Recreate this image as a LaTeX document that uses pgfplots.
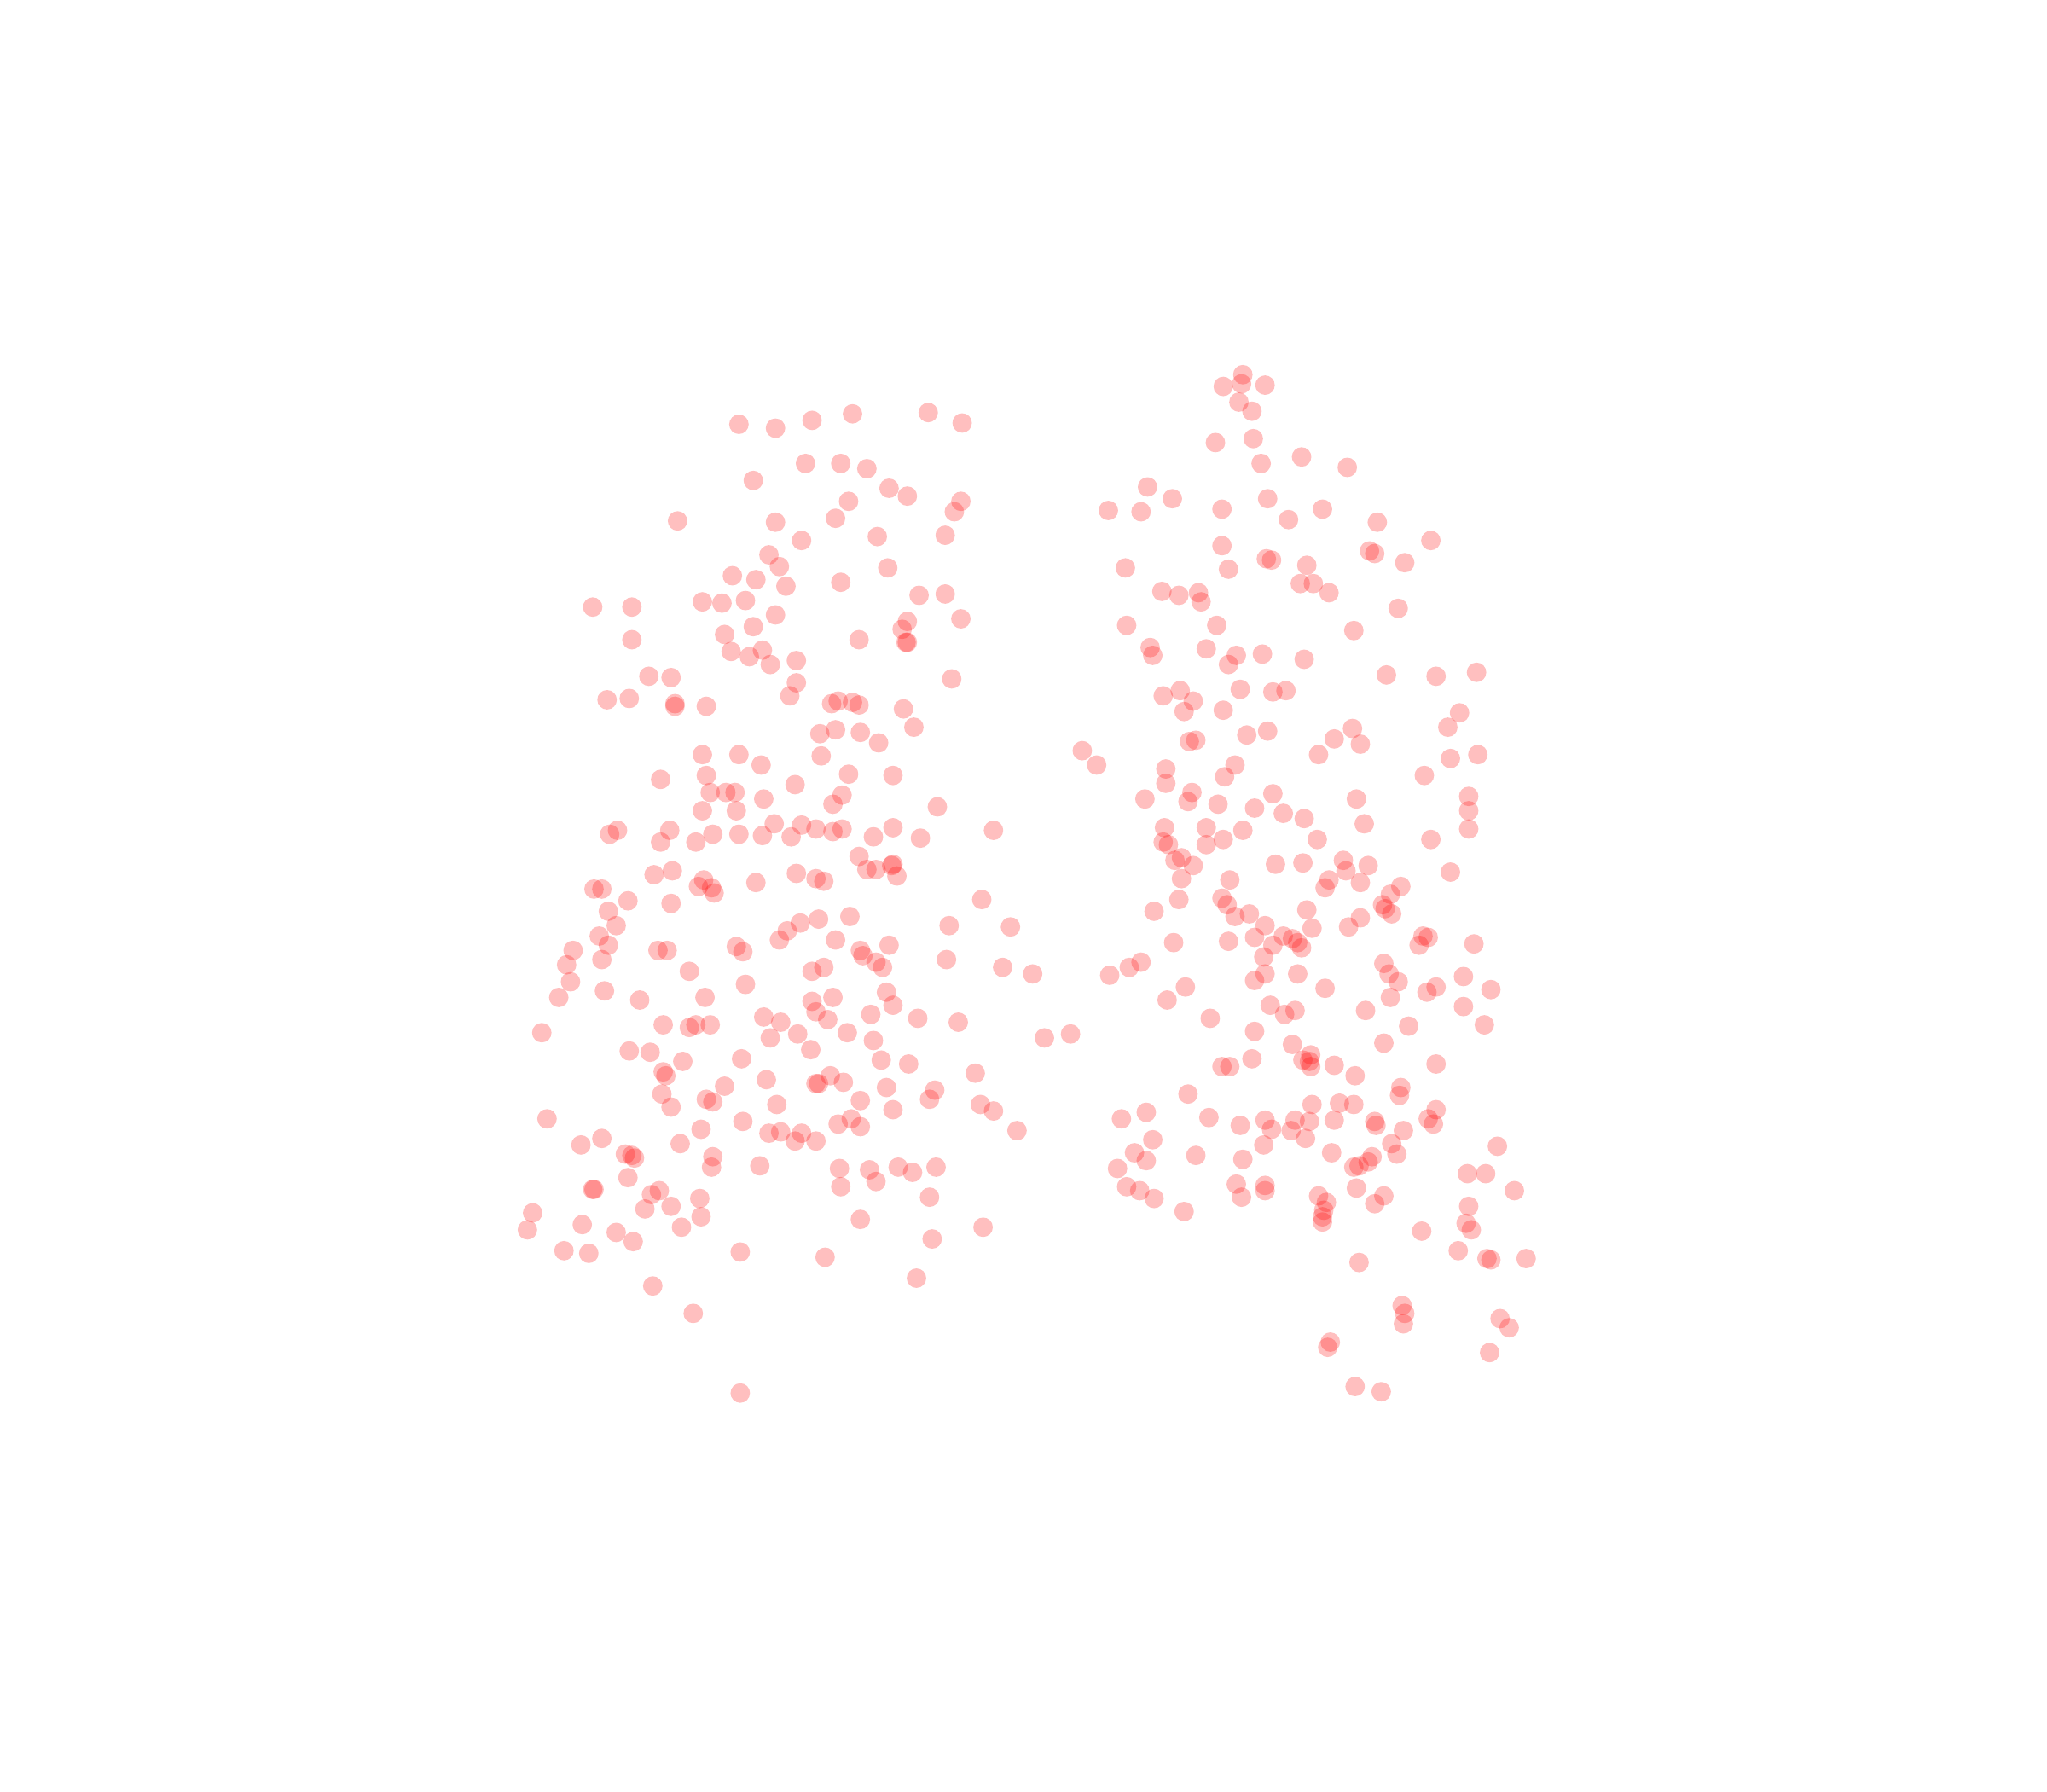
\documentclass[border=0pt]{standalone}
\usepackage{pgfplots}
\pgfplotsset{compat=1.18}
\begin{document}
\begin{tikzpicture}
\path[use as bounding box] (0,0) rectangle (24,21);
\begin{axis}[
    scale only axis, width=24cm, height=21cm,
    xmin=0, xmax=1568, ymin=0, ymax=1372, y dir=reverse,
    axis lines=none, ticks=none,
    dots/.style={only marks, mark=*, mark size=3.25pt, mark options={solid, draw=red, draw opacity=0, line width=0pt, fill=red, fill opacity=0.25}}
]
% left group
\addplot[dots] coordinates {
(566,325)(594,328)(622,322)(653,317)(711,316)(737,324)
(617,355)(644,355)(664,359)(577,368)(681,374)(695,380)(736,384)(731,392)(650,384)(640,397)(594,400)(519,399)
(614,414)(672,411)(724,410)(589,425)(597,434)(680,435)(561,441)(579,444)(602,449)(644,446)(724,455)(704,456)
(538,461)(553,462)(571,460)(454,465)(484,465)(594,471)(577,480)(555,486)(484,490)(658,490)(691,482)(695,476)
(736,474)(694,492)(695,492)(584,498)(560,499)(574,503)(590,509)(610,506)(497,518)(514,519)(729,520)(610,523)
(605,533)(465,536)(482,535)(517,539)(517,541)(541,541)(637,539)(642,537)(653,538)(658,540)(692,543)(700,557)
(628,562)(640,559)(659,561)(673,569)(538,578)(566,578)(629,579)(583,586)(541,594)(506,597)(650,593)(684,594)
(609,601)(544,607)(556,607)(563,607)(585,612)(645,609)(638,616)(718,618)(538,621)(564,621)(593,631)(614,632)
(625,635)(638,637)(645,635)(684,634)(761,636)(467,639)(473,636)(513,636)(546,639)(566,639)(584,640)(606,641)
(669,641)(705,642)(506,645)(533,645)(658,656)(684,662)(683,663)(664,666)(671,666)(687,671)(501,670)(515,667)
(610,669)(625,673)(631,675)(579,676)(539,674)(535,679)(545,680)(547,684)(455,681)(461,681)(481,690)(514,692)
(752,689)(466,698)(651,702)(627,704)(613,707)(603,713)(472,709)(727,709)(774,710)(459,717)(597,720)(640,720)
(681,724)(466,724)(439,728)(504,728)(511,728)(564,725)(569,729)(659,728)(661,732)(671,737)(676,741)(725,735)
(434,739)(461,735)(631,741)(622,744)(528,744)(768,741)(791,746)(437,752)(571,754)(463,759)(428,764)(490,766)
(540,764)(638,764)(622,767)(679,760)(684,770)(625,775)(634,781)(667,777)(585,779)(598,783)(703,780)(734,783)
(415,791)(508,785)(528,787)(533,785)(544,785)(590,795)(611,792)(649,791)(669,797)(800,795)(820,792)(482,805)
(498,806)(621,804)(568,811)(523,813)(675,812)(696,815)(747,822)(508,821)(510,824)(587,827)(636,824)(625,830)
(627,830)(646,829)(679,833)(716,835)(555,832)(507,838)(541,842)(546,844)(514,848)(595,846)(659,843)(712,842)
(751,846)(761,851)(684,850)(419,857)(569,859)(537,865)(642,861)(652,857)(659,863)(779,866)(461,872)(445,877)
(521,876)(589,868)(598,867)(609,874)(614,868)(625,874)(479,884)(484,885)(486,887)(546,886)(545,894)(582,893)
(643,895)(666,896)(688,894)(699,898)(717,894)(481,902)(644,909)(671,905)(455,911)(454,911)(499,915)(505,912)
(536,918)(712,917)(408,929)(494,926)(514,924)(537,932)(659,934)(446,938)(404,942)(472,944)(522,940)(753,940)
(714,949)(485,951)(432,958)(451,960)(567,959)(632,963)(702,979)(500,985)(531,1006)(567,1067)
};
% right group
\addplot[dots] coordinates {
(952,287)(937,296)(951,294)(969,295)(949,308)(959,315)(931,339)(960,336)(966,355)(997,350)(1032,358)(879,373)
(898,382)(971,382)(849,391)(874,392)(936,390)(1013,390)(987,398)(1055,400)(936,418)(1096,414)(1049,422)(1053,424)
(970,428)(974,429)(1076,431)(862,435)(941,436)(1001,433)(996,447)(1006,447)(1018,454)(890,453)(903,456)(918,454)
(920,461)(1071,466)(932,479)(863,479)(1037,483)(881,496)(883,502)(924,497)(967,501)(947,502)(941,509)(999,505)
(1062,517)(1100,518)(1131,515)(950,528)(975,530)(985,529)(904,529)(891,533)(914,537)(907,545)(937,544)(1118,546)
(1109,557)(1036,558)(955,563)(971,560)(1022,566)(1042,570)(911,568)(916,567)(829,575)(840,586)(1010,578)(1132,578)
(1111,581)(893,589)(946,586)(1091,594)(938,595)(893,600)(913,607)(975,608)(1039,612)(1125,610)(877,612)(910,614)
(933,616)(961,619)(983,623)(999,627)(1125,621)(1045,631)(1125,635)(892,634)(924,634)(952,636)(1096,643)(891,645)
(895,647)(924,647)(937,643)(1009,643)(905,657)(900,659)(914,663)(977,662)(998,661)(1029,659)(1048,663)(1031,667)
(1111,668)(905,673)(942,674)(1018,674)(1042,676)(1073,679)(1015,680)(1065,685)(936,688)(903,689)(940,693)(1059,693)
(1061,696)(1001,697)(884,698)(957,700)(946,702)(1066,700)(1042,703)(969,709)(1005,711)(1033,710)(983,717)(961,718)
(990,719)(994,722)(975,724)(997,726)(941,721)(899,722)(1090,717)(1094,718)(1087,724)(1129,723)(968,733)(1060,738)
(874,737)(865,741)(850,747)(969,746)(994,746)(1064,746)(1071,752)(1121,748)(961,751)(908,756)(1015,757)(1142,758)
(1100,756)(1093,760)(1065,764)(894,766)(973,770)(984,777)(992,774)(1046,774)(1121,771)(927,780)(1079,786)(1137,785)
(961,790)(1060,799)(990,800)(1004,808)(998,812)(1003,813)(1004,817)(936,817)(942,817)(959,811)(1022,816)(1100,815)
(1038,824)(1073,833)(1072,839)(910,838)(1005,846)(1026,845)(1037,846)(1100,850)(878,852)(859,857)(926,856)(969,858)
(992,858)(1003,859)(1022,858)(1053,859)(1054,862)(1094,857)(1098,861)(950,862)(974,865)(989,866)(1000,872)(1075,866)
(883,873)(968,877)(1066,876)(1147,878)(869,883)(916,885)(952,888)(878,889)(1020,883)(1051,886)(1048,890)(1070,884)
(1037,894)(1041,893)(856,895)(1124,899)(1138,899)(863,909)(873,912)(884,918)(947,907)(951,917)(969,908)(969,912)
(1039,910)(1010,916)(1016,921)(1060,916)(1053,922)(1160,912)(907,928)(1014,927)(1013,932)(1013,936)(1125,924)(1123,937)
(1127,942)(1089,943)(1117,958)(1139,964)(1142,965)(1169,964)(1041,967)(1074,1000)(1076,1006)(1075,1014)(1149,1010)
(1156,1017)(1019,1028)(1017,1032)(1141,1036)(1038,1062)(1058,1066)
};
\end{axis}
\end{tikzpicture}
\end{document}
